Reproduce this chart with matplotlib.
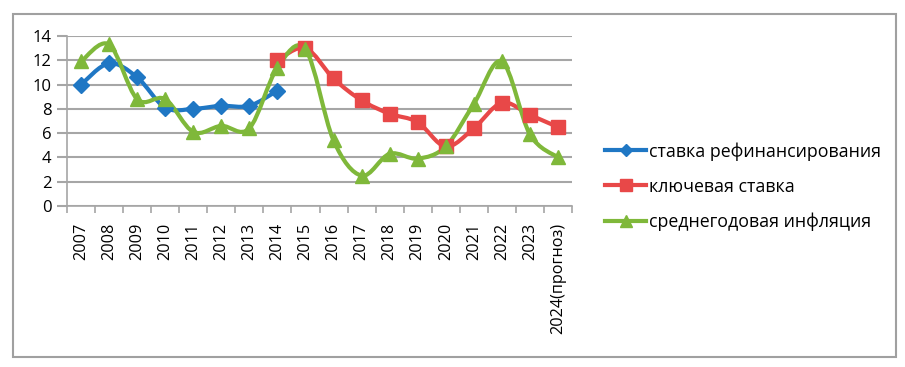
import numpy as np
import matplotlib
matplotlib.use("Agg")
import matplotlib.pyplot as plt
from matplotlib.path import Path
from matplotlib.patches import PathPatch, Rectangle
from matplotlib.lines import Line2D

plt.rcParams['font.family'] = ['Open Sans', 'DejaVu Sans']

years = ["2007", "2008", "2009", "2010", "2011", "2012", "2013", "2014", "2015",
         "2016", "2017", "2018", "2019", "2020", "2021", "2022", "2023", "2024(прогноз)"]

refin = [10.0, 11.75, 10.6, 8.1, 8.0, 8.25, 8.25, 9.5]          # 2007-2014
key_rate = [12.0, 13.0, 10.5, 8.7, 7.6, 6.9, 4.9, 6.4, 8.5, 7.5, 6.5]  # 2014-2024
inflation = [11.9, 13.3, 8.8, 8.8, 6.1, 6.6, 6.4, 11.4, 12.9, 5.4, 2.5,
             4.3, 3.9, 4.9, 8.4, 11.9, 5.9, 4.0]

names = ["ставка рефинансирования", "ключевая ставка", "среднегодовая инфляция"]
colors = ["#1f77c4", "#e84848", "#7fb83a"]


def smooth_path(x, y):
    # excel-like smoothed line: cubic bezier through the points
    x = np.asarray(x, float)
    y = np.asarray(y, float)
    n = len(x)
    verts = [(x[0], y[0])]
    codes = [Path.MOVETO]
    for i in range(n - 1):
        p0 = i - 1 if i > 0 else i
        p3 = i + 2 if i + 2 < n else i + 1
        c1 = (x[i] + (x[i + 1] - x[p0]) / 6, y[i] + (y[i + 1] - y[p0]) / 6)
        c2 = (x[i + 1] - (x[p3] - x[i]) / 6, y[i + 1] - (y[p3] - y[i]) / 6)
        verts += [c1, c2, (x[i + 1], y[i + 1])]
        codes += [Path.CURVE4] * 3
    return Path(verts, codes)


fig = plt.figure(figsize=(9.05, 3.67), dpi=100)
ax = fig.add_axes([67 / 905, 1 - 206 / 367, (572 - 67) / 905, (206 - 36) / 367])

series = [
    (np.arange(0, 8), refin, "D", 8),
    (np.arange(7, 18), key_rate, "s", 10),
    (np.arange(0, 18), inflation, "^", 10.5),
]
for (xs, ys, m, ms), c in zip(series, colors):
    ax.add_patch(PathPatch(smooth_path(xs, ys), fill=False, edgecolor=c, lw=3, zorder=3))
    ax.plot(xs, ys, ls="none", marker=m, ms=ms, color=c, zorder=4)

ax.set_xlim(-0.5, 17.5)
ax.set_ylim(0, 14)
ax.set_yticks(range(0, 15, 2))
ax.yaxis.grid(True, color="#a6a6a6", lw=1.5)
ax.set_axisbelow(True)
ax.set_xticks(np.arange(18))
ax.set_xticklabels(years, rotation=90, fontsize=11.7)
ax.set_xticks(np.arange(-0.5, 18, 1), minor=True)
ax.tick_params(axis="x", which="major", length=0, pad=12)
ax.tick_params(axis="x", which="minor", length=5, color="#a6a6a6", width=1.2)
ax.tick_params(axis="y", length=7, color="#a6a6a6", width=1.5, labelsize=12, pad=4)
for s in ["top", "right"]:
    ax.spines[s].set_visible(False)
for s in ["left", "bottom"]:
    ax.spines[s].set_color("#a6a6a6")
    ax.spines[s].set_linewidth(1.2)

handles = [Line2D([], [], color=c, lw=3, marker=m, ms=ms * 0.8)
           for (xs, ys, m, ms), c in zip(series, colors)]
fig.legend(handles, names, loc="upper left", bbox_to_anchor=(598 / 905, 1 - 135 / 367),
           frameon=False, fontsize=12.8, handlelength=2.3, handletextpad=0.15,
           labelspacing=0.95, borderaxespad=0)

fig.patches.append(Rectangle((13 / 905, 1 - 357 / 367), (896 - 13) / 905, (357 - 14) / 367,
                             transform=fig.transFigure, fill=False, edgecolor="#a0a0a0", lw=1.5))

fig.savefig("out.png", dpi=100)
